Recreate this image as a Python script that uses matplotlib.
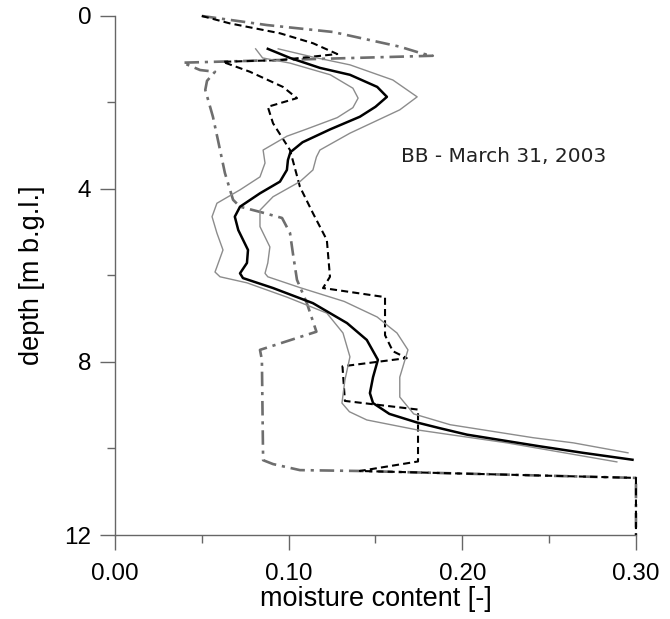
import matplotlib
matplotlib.use('Agg')
import matplotlib.pyplot as plt
from matplotlib.ticker import MultipleLocator, FormatStrFormatter

# mean profile (thick line)
mean_theta = [0.088, 0.1008, 0.118, 0.1353, 0.151, 0.1566, 0.150, 0.141, 0.124, 0.108,
              0.101, 0.0996, 0.099, 0.095, 0.0835, 0.072, 0.069, 0.071, 0.0766, 0.076,
              0.072, 0.0737, 0.091, 0.114, 0.1336, 0.145, 0.1514, 0.1486, 0.1468, 0.1486,
              0.158, 0.174, 0.187, 0.2027, 0.2447, 0.2695, 0.298]
mean_depth = [0.76, 0.97, 1.2, 1.36, 1.64, 1.87, 2.1, 2.33, 2.62, 2.92,
              3.15, 3.33, 3.56, 3.83, 4.1, 4.41, 4.64, 4.95, 5.41, 5.71,
              5.95, 6.06, 6.29, 6.64, 7.1, 7.49, 7.95, 8.35, 8.72, 8.95,
              9.2, 9.4, 9.53, 9.68, 9.95, 10.1, 10.26]

# lower bound (thin grey, left)
low_theta = [0.081, 0.085, 0.1008, 0.124, 0.137, 0.140, 0.137, 0.128, 0.110, 0.099,
             0.0853, 0.0864, 0.0835, 0.072, 0.0587, 0.0559, 0.0587, 0.0622, 0.0587, 0.0576,
             0.0605, 0.076, 0.099, 0.122, 0.1313, 0.1353, 0.1324, 0.1307, 0.135, 0.145,
             0.174, 0.2257, 0.289]
low_depth = [0.76, 0.97, 1.09, 1.36, 1.67, 1.90, 2.12, 2.35, 2.62, 2.78,
             3.1, 3.4, 3.72, 4.02, 4.33, 4.64, 5.02, 5.41, 5.8, 5.92,
             6.03, 6.17, 6.5, 6.87, 7.33, 7.88, 8.42, 8.95, 9.15, 9.34,
             9.57, 9.87, 10.31]

# upper bound (thin grey, right)
up_theta = [0.094, 0.114, 0.1353, 0.16, 0.174, 0.164, 0.1353, 0.118, 0.116, 0.114,
            0.1065, 0.091, 0.0835, 0.0835, 0.0892, 0.088, 0.0864, 0.088, 0.1065, 0.132,
            0.151, 0.158, 0.1624, 0.1687, 0.164, 0.164, 0.172, 0.193, 0.2407, 0.264,
            0.2954]
up_depth = [0.76, 0.95, 1.13, 1.48, 1.87, 2.17, 2.71, 3.1, 3.26, 3.56,
            3.83, 4.18, 4.49, 4.87, 5.34, 5.71, 5.95, 6.03, 6.28, 6.6,
            6.96, 7.19, 7.33, 7.72, 8.35, 8.81, 9.2, 9.45, 9.75, 9.87,
            10.1]

# measured profile (dashed)
meas_theta = [0.05, 0.066, 0.095, 0.114, 0.128, 0.095, 0.062, 0.0777, 0.0967, 0.1048,
              0.088, 0.091, 0.1008, 0.1065, 0.114, 0.122, 0.1238, 0.1198, 0.1555, 0.1555,
              0.160, 0.168, 0.131, 0.1324, 0.1745, 0.1745, 0.141, 0.30, 0.30]
meas_depth = [0.0, 0.17, 0.4, 0.63, 0.88, 1.02, 1.06, 1.29, 1.64, 1.9,
              2.1, 2.48, 3.1, 3.95, 4.56, 5.18, 6.03, 6.29, 6.5, 7.38,
              7.75, 7.91, 8.1, 8.9, 9.1, 10.3, 10.52, 10.68, 12.0]

# second profile (dash-dot)
alt_theta = [0.05, 0.0875, 0.1255, 0.164, 0.177, 0.183, 0.039, 0.049, 0.0576, 0.053,
             0.052, 0.0564, 0.0593, 0.0633, 0.068, 0.072, 0.0835, 0.0962, 0.1008, 0.1025,
             0.1048, 0.1105, 0.116, 0.0835, 0.0846, 0.0853, 0.091, 0.1065, 0.141, 0.30,
             0.30]
alt_depth = [0.0, 0.21, 0.37, 0.71, 0.87, 0.92, 1.08, 1.25, 1.29, 1.5,
             1.71, 2.33, 2.87, 3.63, 4.25, 4.41, 4.53, 4.67, 5.02, 5.5,
             6.1, 6.64, 7.3, 7.72, 7.95, 10.27, 10.36, 10.5, 10.52, 10.68,
             12.0]

plt.rcParams['font.family'] = ['Liberation Sans', 'DejaVu Sans']

fig = plt.figure(figsize=(6.7, 6.19), dpi=100)
ax = fig.add_axes([0.1716, 0.1357, 0.7776, 0.8385])

ax.plot(alt_theta, alt_depth, color='#6e6e6e', linewidth=1.9,
        linestyle=(0, (5.5, 2.2, 1.2, 2.2)), clip_on=False)
ax.plot(meas_theta, meas_depth, color='black', linewidth=1.5,
        linestyle=(0, (3.4, 2.0)), clip_on=False)
ax.plot(low_theta, low_depth, color='#8c8c8c', linewidth=1.0, solid_joinstyle='round')
ax.plot(up_theta, up_depth, color='#8c8c8c', linewidth=1.0, solid_joinstyle='round')
ax.plot(mean_theta, mean_depth, color='black', linewidth=1.8, solid_joinstyle='round')

ax.text(0.1647, 3.26, 'BB - March 31, 2003', fontsize=14.5,
        family='DejaVu Sans', va='center', ha='left', color='#222222')

ax.set_xlim(0, 0.30)
ax.set_ylim(12, 0)
ax.xaxis.set_major_locator(MultipleLocator(0.10))
ax.xaxis.set_minor_locator(MultipleLocator(0.05))
ax.xaxis.set_major_formatter(FormatStrFormatter('%.2f'))
ax.yaxis.set_major_locator(MultipleLocator(4))
ax.yaxis.set_minor_locator(MultipleLocator(2))

for side in ['top', 'right']:
    ax.spines[side].set_visible(False)
for side in ['left', 'bottom']:
    ax.spines[side].set_color('#666666')
    ax.spines[side].set_linewidth(1.0)

ax.tick_params(which='major', length=11, width=1.0, color='#666666', labelsize=17.5)
ax.tick_params(axis='x', which='major', pad=9)
ax.tick_params(axis='y', which='major', pad=6)
ax.tick_params(which='minor', length=6, width=1.0, color='#666666')

ax.set_xlabel('moisture content [-]', fontsize=19.5, labelpad=1)
ax.set_ylabel('depth [m b.g.l.]', fontsize=19.5, labelpad=14)

plt.savefig('out.png', dpi=100)
